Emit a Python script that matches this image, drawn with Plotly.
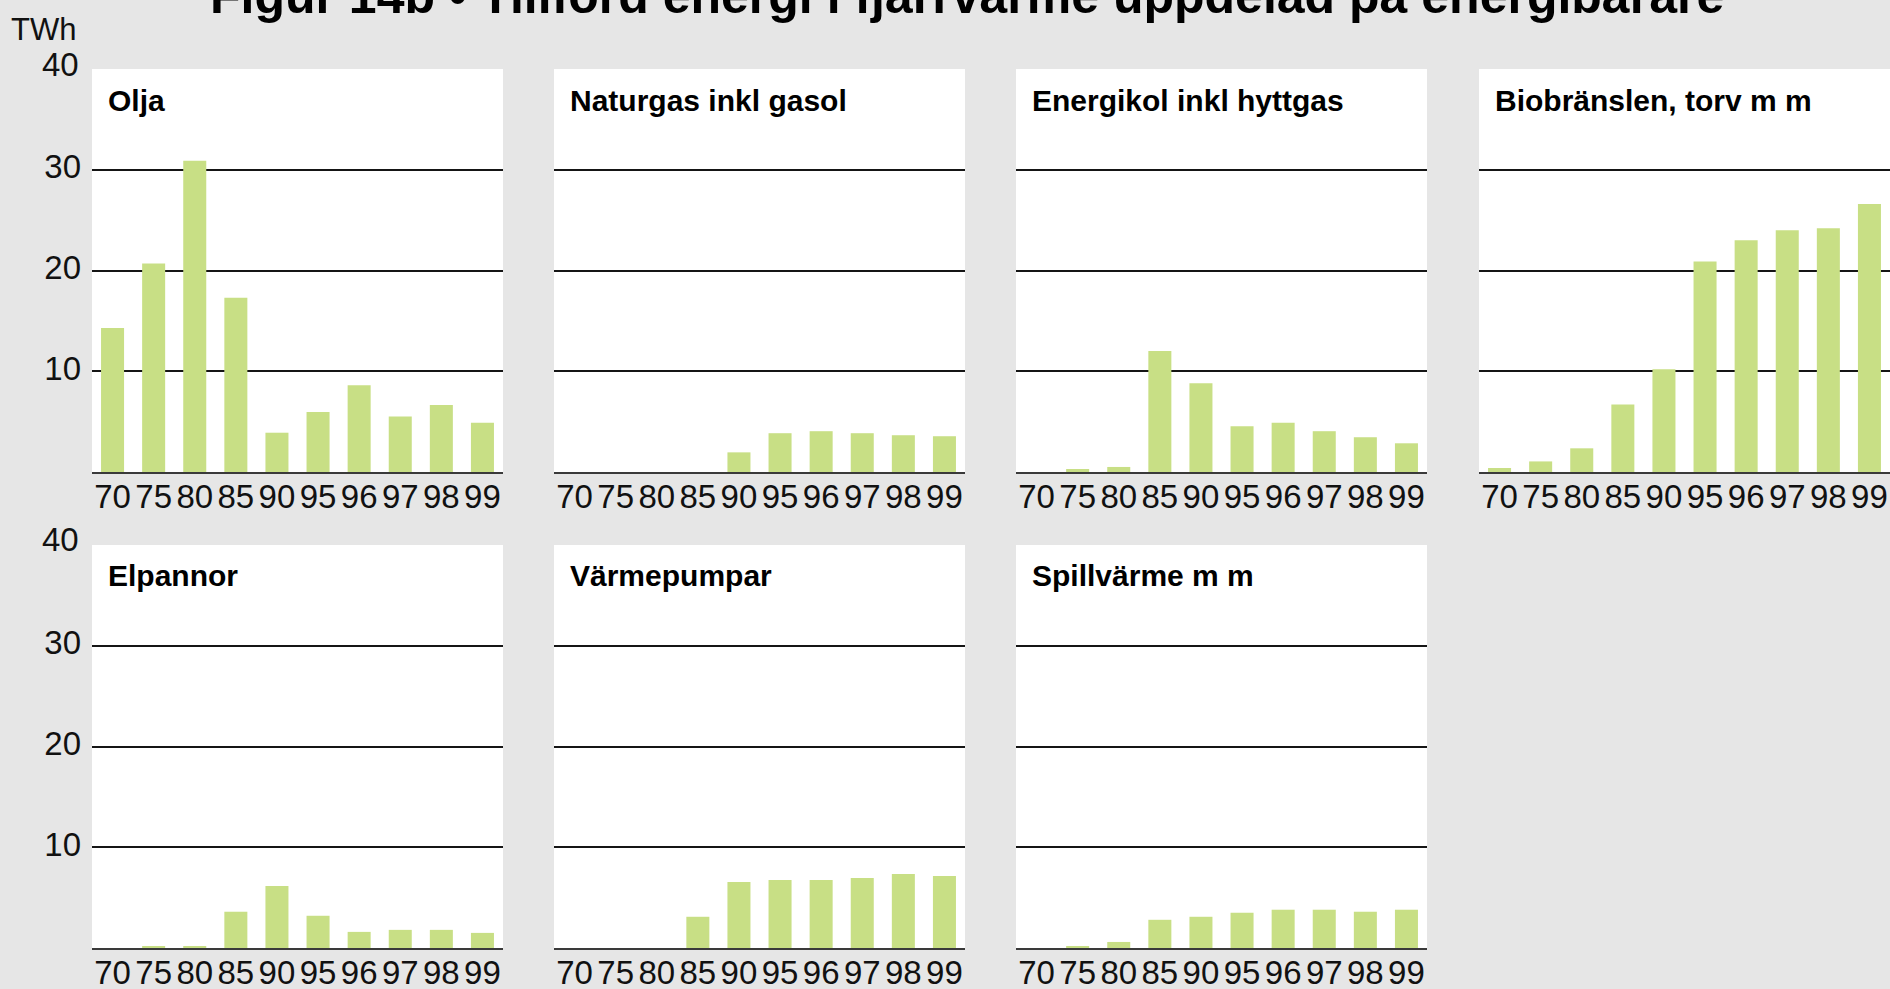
import plotly.graph_objects as go

# ---- data ----
years = ["70", "75", "80", "85", "90", "95", "96", "97", "98", "99"]
olja = [14.3, 20.7, 30.9, 17.3, 3.9, 5.95, 8.6, 5.5, 6.65, 4.9]
naturgas = [0, 0, 0, 0, 1.95, 3.85, 4.05, 3.85, 3.65, 3.55]
energikol = [0, 0.3, 0.5, 12.0, 8.8, 4.55, 4.9, 4.05, 3.45, 2.85]
biobransle = [0.4, 1.05, 2.35, 6.7, 10.2, 20.9, 23.0, 24.0, 24.2, 26.6]
elpannor = [0, 0.1, 0.1, 3.6, 6.15, 3.2, 1.6, 1.8, 1.8, 1.5]
varmepumpar = [0, 0, 0, 3.1, 6.55, 6.75, 6.75, 6.95, 7.35, 7.15]
spillvarme = [0, 0.1, 0.6, 2.8, 3.1, 3.5, 3.8, 3.8, 3.6, 3.8]

panel_titles = ["Olja", "Naturgas inkl gasol", "Energikol inkl hyttgas",
                "Biobränslen, torv m m", "Elpannor", "Värmepumpar", "Spillvärme m m"]
panel_series = [olja, naturgas, energikol, biobransle, elpannor, varmepumpar, spillvarme]
y_tickvals = [10, 20, 30]
y_max = 40
title_text = "Figur 14b • Tillförd energi i fjärrvärme uppdelad på energibärare"
unit_text = "TWh"

# ---- layout constants (pixels) ----
W, H = 1890, 989
col_left = [92, 554, 1016, 1479]
panel_w = 411
row_top = [69, 545]
panel_h = 403

BAR = "#c8df85"
BG = "#e6e6e6"
FONT = "Liberation Sans, Arial, sans-serif"
tick_font = dict(family=FONT, size=33, color="#111111")

fig = go.Figure()
layout = dict(
    template="none",
    width=W, height=H,
    margin=dict(l=0, r=0, t=0, b=0, pad=0, autoexpand=False),
    paper_bgcolor=BG, plot_bgcolor="white",
    bargap=0.44, showlegend=False,
    font=dict(family=FONT, color="black"),
    annotations=[],
)

for i, (name, vals) in enumerate(zip(panel_titles, panel_series)):
    n = i + 1
    r, c = divmod(i, 4)
    xs = "" if n == 1 else str(n)
    fig.add_trace(go.Bar(x=years, y=vals, xaxis="x" + xs, yaxis="y" + xs,
                         marker=dict(color=BAR, line=dict(width=0)),
                         hoverinfo="skip"))
    x0 = col_left[c] / W
    x1 = min((col_left[c] + panel_w) / W, 1.0)
    ytop = row_top[r]
    y1 = (H - ytop) / H
    y0 = (H - ytop - panel_h) / H
    layout["xaxis" + xs] = dict(
        domain=[x0, x1], anchor="y" + xs, type="category",
        categoryorder="array", categoryarray=years,
        tickmode="array", tickvals=years, ticktext=years,
        showline=True, linecolor="#3a3a3a", linewidth=2,
        ticks="", showgrid=False, zeroline=False, automargin=False,
        tickfont=tick_font, ticklabelstandoff=-6, fixedrange=True,
    )
    layout["yaxis" + xs] = dict(
        domain=[y0, y1], anchor="x" + xs, range=[0, y_max],
        tickmode="array", tickvals=y_tickvals,
        showgrid=True, gridcolor="#151515", gridwidth=1.5,
        zeroline=False, showline=False, ticks="", automargin=False,
        showticklabels=(c == 0), tickfont=tick_font,
        ticklabelstandoff=10, ticklabelshift=-3, fixedrange=True,
    )
    # panel title
    layout["annotations"].append(dict(
        text="<b>" + name + "</b>", xref="x" + xs + " domain", yref="y" + xs + " domain",
        x=0, y=1, xanchor="left", yanchor="middle", xshift=14, yshift=-31,
        showarrow=False, font=dict(family=FONT, size=30, color="black"),
    ))
    # "40" label on left column
    if c == 0:
        layout["annotations"].append(dict(
            text=str(y_max), xref="paper", yref="y" + xs, x=81 / W, y=y_max,
            xanchor="right", yanchor="middle", yshift=5, showarrow=False,
            font=tick_font,
        ))

# unit label
layout["annotations"].append(dict(
    text=unit_text, xref="paper", yref="paper", x=78 / W, y=(H - 29) / H,
    xanchor="right", yanchor="middle", showarrow=False,
    font=dict(family=FONT, size=31, color="#111111"),
))
# main title (partly cut off at the top, as in the reference)
layout["annotations"].append(dict(
    text="<b>" + title_text + "</b>", xref="paper", yref="paper",
    x=967 / W, y=(H + 4) / H, xanchor="center", yanchor="middle",
    showarrow=False, font=dict(family=FONT, size=50, color="black"),
))

fig.update_layout(**layout)
fig.write_html(
    "out.html",
    config={"displayModeBar": False},
    post_script="document.body.style.margin='0';document.body.style.overflow='hidden';",
)
